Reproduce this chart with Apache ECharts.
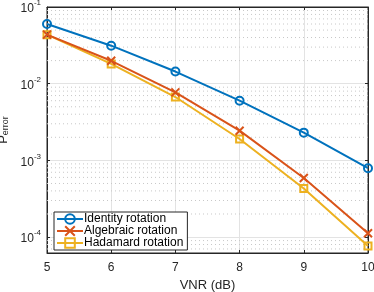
<!DOCTYPE html>
<html><head><meta charset="utf-8">
<script src="https://cdn.jsdelivr.net/npm/echarts@6/dist/echarts.min.js"></script>
<style>html,body{margin:0;padding:0;background:#fff}#c{width:374px;height:292px}</style>
</head><body><div id="c"></div>
<script>
const vnr = [5, 6, 7, 8, 9, 10];
const identity = [0.060, 0.0313, 0.0144, 0.0060, 0.0023, 0.00079];
const algebraic = [0.0436, 0.0199, 0.0077, 0.00244, 0.00059, 0.000112];
const hadamard = [0.0436, 0.0181, 0.0067, 0.0019, 0.00043, 0.0000765];
const seriesNames = ['Identity rotation', 'Algebraic rotation', 'Hadamard rotation'];
const yMin = 6.2e-5, yMax = 0.1;
const xMin = 5, xMax = 10;

const minorVals = [];
for (let d = -5; d <= -2; d++) for (let k = 2; k <= 9; k++) {
  const v = k * Math.pow(10, d);
  if (v > yMin && v < yMax) minorVals.push(v);
}
const axisCol = '#262626';
const font = 'Liberation Sans, Arial, sans-serif';
function pairs(ys){ return vnr.map((x,i)=>[x, ys[i]]); }
function supFmt(v){
  const e = Math.round(Math.log10(v));
  return '{b|10}{s|' + e + '}';
}
const cols = ['#0072BD', '#D95319', '#EDB120'];
const minorSeries = minorVals.map(v => ({
  type: 'line', data: [[xMin, v], [xMax, v]], silent: true, z: 1,
  symbol: 'none', legendHoverLink: false, tooltip: {show: false},
  lineStyle: {type: [1, 3], color: '#c8c8c8', width: 1},
  emphasis: {disabled: true}
}));
const chart = echarts.init(document.getElementById('c'), null, {renderer:'canvas'});
chart.setOption({
  animation: false,
  textStyle: {fontFamily: font},
  grid: {left: 47, right: 6, top: 7, bottom: 39, containLabel: false, outerBoundsMode: 'none',
    show: true, borderColor: axisCol, borderWidth: 1, backgroundColor: 'rgba(0,0,0,0)'},
  legend: {
    orient: 'vertical', left: 54, top: 212, itemGap: 0, itemWidth: 26, itemHeight: 12,
    padding: [1, 4, 1, 2], borderColor: axisCol, borderWidth: 1, backgroundColor: '#fff',
    textStyle: {fontSize: 12, color: '#000', fontFamily: font, padding: [0,0,0,-4]},
    data: seriesNames
  },
  xAxis: [{
    type: 'value', min: xMin, max: xMax, interval: 1,
    name: 'VNR (dB)', nameLocation: 'middle', nameGap: 21,
    nameTextStyle: {fontSize: 13, color: axisCol, fontFamily: font},
    axisLine: {show: true, lineStyle: {color: axisCol}},
    axisTick: {show: true, inside: true, length: 3, lineStyle: {color: axisCol}},
    axisLabel: {fontSize: 12, color: axisCol, margin: 9, fontFamily: font},
    splitLine: {show: true, lineStyle: {color: '#e3e3e3', width: 1, type: 'solid'}}
  }, {
    type: 'value', min: xMin, max: xMax, interval: 1, position: 'top',
    axisLine: {show: true, lineStyle: {color: axisCol}},
    axisTick: {show: true, inside: true, length: 3, lineStyle: {color: axisCol}},
    axisLabel: {show: false}, splitLine: {show: false}
  }],
  yAxis: [{
    type: 'log', logBase: 10, min: yMin, max: yMax,
    name: '{p|P}{sub|error}', nameLocation: 'middle', nameGap: 27, nameRotate: 90,
    nameTextStyle: {color: axisCol, fontFamily: font,
      rich: {p: {fontSize: 13, color: axisCol, fontFamily: font, verticalAlign: 'top', lineHeight: 13},
             sub: {fontSize: 9, color: axisCol, fontFamily: font, verticalAlign: 'bottom', lineHeight: 9, padding: [10, 0, 0, 0]}}},
    axisLine: {show: true, lineStyle: {color: axisCol}},
    axisTick: {show: true, inside: true, length: 3, lineStyle: {color: axisCol}},
    axisLabel: {showMinLabel: false, color: axisCol, margin: 6, formatter: supFmt,
      rich: {b: {fontSize: 12, color: axisCol, fontFamily: font, verticalAlign: 'bottom', lineHeight: 16},
             s: {fontSize: 8, color: axisCol, fontFamily: font, verticalAlign: 'top', lineHeight: 16}}},
    splitLine: {show: true, lineStyle: {color: '#e3e3e3', width: 1, type: 'solid'}}
  }, {
    type: 'log', logBase: 10, min: yMin, max: yMax, position: 'right',
    axisLine: {show: true, lineStyle: {color: axisCol}},
    axisTick: {show: true, inside: true, length: 3, lineStyle: {color: axisCol}},
    axisLabel: {show: false}, splitLine: {show: false}
  }],
  series: minorSeries.concat([
    {
      name: seriesNames[0], type: 'line', data: pairs(identity),
      symbol: 'circle', symbolSize: 8, z: 5,
      lineStyle: {color: cols[0], width: 2},
      itemStyle: {color: 'rgba(255,255,255,0)', borderColor: cols[0], borderWidth: 2}
    },
    {
      name: seriesNames[1], type: 'line', data: pairs(algebraic),
      symbol: 'path://M0,0L10,10M10,0L0,10', symbolSize: 8, z: 4,
      lineStyle: {color: cols[1], width: 2},
      itemStyle: {color: 'rgba(255,255,255,0)', borderColor: cols[1], borderWidth: 2}
    },
    {
      name: seriesNames[2], type: 'line', data: pairs(hadamard),
      symbol: 'rect', symbolSize: 7, z: 3,
      lineStyle: {color: cols[2], width: 2},
      itemStyle: {color: 'rgba(255,255,255,0)', borderColor: cols[2], borderWidth: 2}
    }
  ])
});
</script></body></html>
